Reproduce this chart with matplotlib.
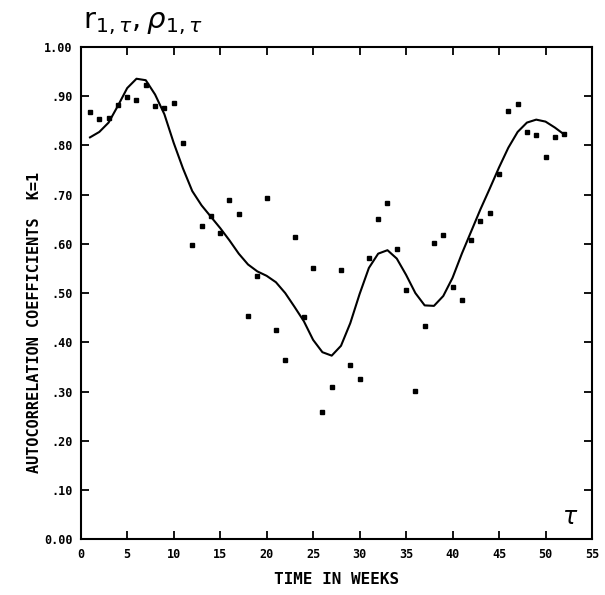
import numpy as np
import matplotlib
matplotlib.use("Agg")
import matplotlib.pyplot as plt
from matplotlib.ticker import FuncFormatter

# Lag in weeks
weeks = list(range(1, 53))

# Sample autocorrelation coefficients r(1, tau)
sample_r = [0.868, 0.854, 0.856, 0.881, 0.898, 0.892, 0.923, 0.880, 0.875, 0.885,
            0.804, 0.597, 0.636, 0.657, 0.621, 0.688, 0.661, 0.453, 0.534, 0.692,
            0.426, 0.365, 0.613, 0.451, 0.550, 0.258, 0.309, 0.546, 0.354, 0.325,
            0.572, 0.651, 0.683, 0.590, 0.506, 0.302, 0.434, 0.601, 0.618, 0.513,
            0.485, 0.607, 0.646, 0.663, 0.741, 0.869, 0.884, 0.826, 0.821, 0.777,
            0.816, 0.822]

# Model autocorrelation coefficients rho(1, tau)
model_rho = [0.816, 0.827, 0.846, 0.880, 0.916, 0.935, 0.932, 0.903, 0.863, 0.805,
             0.753, 0.707, 0.678, 0.655, 0.632, 0.607, 0.580, 0.558, 0.544, 0.535,
             0.522, 0.500, 0.472, 0.443, 0.405, 0.380, 0.373, 0.393, 0.439, 0.498,
             0.551, 0.580, 0.587, 0.570, 0.537, 0.500, 0.475, 0.474, 0.494, 0.531,
             0.580, 0.625, 0.670, 0.712, 0.755, 0.795, 0.827, 0.846, 0.852, 0.848,
             0.836, 0.822]

x_ticks = list(range(0, 56, 5))
y_ticks = [round(0.1 * i, 2) for i in range(11)]

mono = "DejaVu Sans Mono"

fig = plt.figure(figsize=(6.05, 5.95), dpi=100)
ax = fig.add_axes([0.1334, 0.0934, 0.8451, 0.8281])

ax.plot(weeks, model_rho, color="black", linewidth=1.5, solid_joinstyle="round")
ax.plot(weeks, sample_r, linestyle="none", marker="s", markersize=2.3,
        color="black")

ax.set_xlim(0, 55)
ax.set_ylim(0, 1.0)
ax.set_xticks(x_ticks)
ax.set_yticks(y_ticks)


def y_fmt(v, pos):
    if abs(v) < 1e-9:
        return "0.00"
    if abs(v - 1.0) < 1e-9:
        return "1.00"
    return ("%.2f" % v)[1:]


ax.yaxis.set_major_formatter(FuncFormatter(y_fmt))
ax.tick_params(axis="both", direction="in", length=6, width=1.3,
               top=True, right=True, labelsize=8.5, pad=6)
for lab in ax.get_xticklabels() + ax.get_yticklabels():
    lab.set_fontfamily(mono)
    lab.set_fontweight("bold")

for sp in ax.spines.values():
    sp.set_linewidth(1.5)

ax.set_xlabel("TIME IN WEEKS", fontfamily=mono, fontweight="bold",
              fontsize=11.5, labelpad=8)
ax.set_ylabel("AUTOCORRELATION COEFFICIENTS  K=1", fontfamily=mono,
              fontweight="bold", fontsize=11)
ax.yaxis.set_label_coords(-0.075, 0.44)

ax.text(52.6, 0.045, r"$\tau$", fontsize=17, ha="center", va="center",
        color="black")
fig.text(0.138, 0.962, r"$\mathrm{r}_{1,\tau},\rho_{1,\tau}$", fontsize=21,
         ha="left", va="center", color="black")

fig.savefig("out.png", dpi=100, facecolor="white")
